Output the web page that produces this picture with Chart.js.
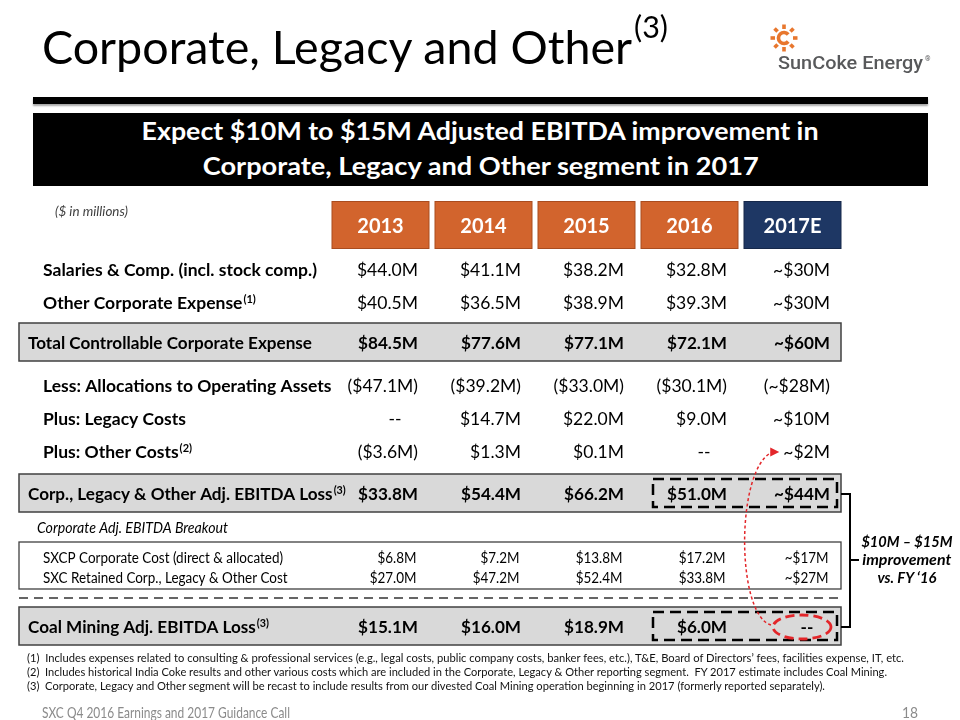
<!DOCTYPE html>
<html>
<head>
<meta charset="utf-8">
<title>Corporate, Legacy and Other</title>
<script src="https://cdn.jsdelivr.net/npm/chart.js@4.4.1/dist/chart.umd.min.js"></script>
<style>
  body { margin: 0; background: #fff; }
  #slide { position: relative; width: 960px; height: 720px; overflow: hidden; font-family: Lato, "Open Sans", sans-serif; color: #000; }
  #tabela { position: absolute; left: 0; top: 0; }
  .txt { position: absolute; white-space: nowrap; line-height: 1; }
  .txt span { display: inline-block; transform-origin: left center; }
  .centro { text-align: center; }
  .centro span { transform-origin: center center; }
  .nota { font-size: 11.5px; color: #111; left: 27px; }
</style>
</head>
<body>
<div id="slide">
  <canvas id="tabela" width="960" height="720"></canvas>

  <div class="txt" style="left:42px; top:23px; font-size:47px;"><span data-w="590">Corporate, Legacy and Other</span></div>
  <div class="txt" style="left:634px; top:11px; font-size:30px;"><span data-w="34">(3)</span></div>

  <svg style="position:absolute; left:768px; top:23px;" width="32" height="30" viewBox="0 0 32 30">
    <path d="M20.2 18.5 A5.5 5.5 0 1 1 20.2 11.5" fill="none" stroke="#e8772e" stroke-width="3.6"/>
    <g stroke="#e8772e" stroke-width="3.6">
      <line x1="25" y1="15" x2="29.5" y2="15"/>
      <line x1="7" y1="15" x2="2.5" y2="15"/>
      <line x1="16" y1="6" x2="16" y2="1.5"/>
      <line x1="16" y1="24" x2="16" y2="28.5"/>
      <line x1="22.4" y1="8.6" x2="25.5" y2="5.5"/>
      <line x1="9.6" y1="8.6" x2="6.5" y2="5.5"/>
      <line x1="22.4" y1="21.4" x2="25.5" y2="24.5"/>
      <line x1="9.6" y1="21.4" x2="6.5" y2="24.5"/>
    </g>
  </svg>
  <div class="txt" style="left:778px; top:54px; font-size:18.5px; font-family:Roboto, sans-serif; font-weight:500; color:#58595b;"><span data-w="145">SunCoke Energy</span></div>
  <div class="txt" style="left:925px; top:56px; font-size:7px; font-family:Roboto, sans-serif; color:#58595b;">®</div>

  <div style="position:absolute; left:33px; top:97px; width:895px; height:7px; background:#000; box-shadow:0 2px 2px rgba(0,0,0,.35);"></div>
  <div style="position:absolute; left:33px; top:113px; width:895px; height:73px; background:#000;"></div>
  <div class="txt centro" style="left:33px; width:895px; top:118px; font-size:25px; font-weight:700; color:#fff;"><span data-w="677">Expect $10M to $15M Adjusted EBITDA improvement in</span></div>
  <div class="txt centro" style="left:33px; width:895px; top:153px; font-size:25px; font-weight:700; color:#fff;"><span data-w="556">Corporate, Legacy and Other segment in 2017</span></div>

  <div class="txt" style="left:55px; top:206px; font-size:12.5px; font-style:italic; color:#404040;"><span data-w="73">($ in millions)</span></div>

  <div class="txt centro" style="left:857px; width:100px; top:534px; font-size:15px; font-weight:700; font-style:italic;"><span data-w="91">$10M – $15M</span></div>
  <div class="txt centro" style="left:857px; width:100px; top:552px; font-size:15px; font-weight:700; font-style:italic;"><span data-w="89">improvement</span></div>
  <div class="txt centro" style="left:857px; width:100px; top:570px; font-size:15px; font-weight:700; font-style:italic;"><span data-w="59">vs. FY ‘16</span></div>

  <div class="txt nota" style="top:652px;"><span data-w="877">(1)&nbsp; Includes expenses related to consulting &amp; professional services (e.g., legal costs, public company costs, banker fees, etc.), T&amp;E, Board of Directors’ fees, facilities expense, IT, etc.</span></div>
  <div class="txt nota" style="top:666px;"><span data-w="860">(2)&nbsp; Includes historical India Coke results and other various costs which are included in the Corporate, Legacy &amp; Other reporting segment.&nbsp; FY 2017 estimate includes Coal Mining.</span></div>
  <div class="txt nota" style="top:680px;"><span data-w="798">(3)&nbsp; Corporate, Legacy and Other segment will be recast to include results from our divested Coal Mining operation beginning in 2017 (formerly reported separately).</span></div>

  <div class="txt" style="left:42px; top:705px; font-size:15px; color:#8b8b8b;"><span data-w="248">SXC Q4 2016 Earnings and 2017 Guidance Call</span></div>
  <div class="txt" style="left:902px; top:705px; font-size:15px; color:#8b8b8b;"><span data-w="16">18</span></div>
</div>

<script>
// dados da tabela (valores em milhoes, null = "--")
const anos = ['2013', '2014', '2015', '2016', '2017E'];
const linhas = [
    'Salaries & Comp. (incl. stock comp.)',
    'Other Corporate Expense',
    'Total Controllable Corporate Expense',
    'Less: Allocations to Operating Assets',
    'Plus: Legacy Costs',
    'Plus: Other Costs',
    'Corp., Legacy & Other Adj. EBITDA Loss',
    'SXCP Corporate Cost (direct & allocated)',
    'SXC Retained Corp., Legacy & Other Cost',
    'Coal Mining Adj. EBITDA Loss'
];
const notas = ['', '(1)', '', '', '', '(2)', '(3)', '', '', '(3)'];
const v2013 = [44.0, 40.5, 84.5, -47.1, null, -3.6, 33.8, 6.8, 27.0, 15.1];
const v2014 = [41.1, 36.5, 77.6, -39.2, 14.7, 1.3, 54.4, 7.2, 47.2, 16.0];
const v2015 = [38.2, 38.9, 77.1, -33.0, 22.0, 0.1, 66.2, 13.8, 52.4, 18.9];
const v2016 = [32.8, 39.3, 72.1, -30.1, 9.0, null, 51.0, 17.2, 33.8, 6.0];
const v2017E = [30, 30, 60, -28, 10, 2, 44, 17, 27, null];
const subtitulo = 'Corporate Adj. EBITDA Breakout';

// layout (estilo, nao dados)
const tipoLinha = ['row', 'row', 'box', 'row', 'row', 'row', 'box', 'break', 'break', 'box'];
const layout = {
    headerY: 225,
    passos: [45, 33, 40, 43, 33, 33, 42, 63, 20, 50],
    subtituloGap: 34,
    esquerda: 19,
    meiaLargura: 48.5
};
const cores = { laranja: '#d2642d', laranjaBorda: '#a94c1f', azul: '#1e3764', cinza: '#d9d9d9', borda: '#404040', vermelho: '#e3262a' };

const rowY = [];
layout.passos.reduce((acc, p) => { acc += p; rowY.push(acc); return acc; }, layout.headerY);

function fmt(v, est) {
    if (v === null) return '--';
    const n = est ? '~$' + Math.abs(v) + 'M' : '$' + Math.abs(v).toFixed(1) + 'M';
    return v < 0 ? '(' + n + ')' : n;
}

function escreve(ctx, s, x, y, align, sq) {
    ctx.save();
    ctx.translate(x, y);
    ctx.scale(sq, 1);
    ctx.textAlign = align;
    ctx.fillText(s, 0, 0);
    ctx.restore();
}

function fonte(tipo) {
    if (tipo === 'break') return { b: '15.5px Lato', v: '15.5px Lato', sz: 15.5 };
    if (tipo === 'box') return { b: 'bold 17.5px Lato', v: 'bold 17.5px Lato', sz: 17.5 };
    return { b: 'bold 17.5px Lato', v: '17.5px Lato', sz: 17.5 };
}

const plugTabela = {
    id: 'plugTabela',
    beforeDatasetsDraw(chart) {
        const ctx = chart.ctx, x = chart.scales.x, y = chart.scales.y;
        const L = layout.esquerda, R = x.getPixelForValue(anos.length - 1) + layout.meiaLargura;
        ctx.save();
        // caixas cinza
        tipoLinha.forEach((t, i) => {
            if (t !== 'box') return;
            const yc = y.getPixelForValue(rowY[i]);
            ctx.fillStyle = cores.cinza;
            ctx.fillRect(L, yc - 20, R - L, 38);
            ctx.strokeStyle = cores.borda;
            ctx.lineWidth = 1.5;
            ctx.strokeRect(L, yc - 20, R - L, 38);
        });
        // caixa do breakout
        const y1 = y.getPixelForValue(rowY[7]), y2 = y.getPixelForValue(rowY[8]);
        ctx.strokeStyle = cores.borda;
        ctx.lineWidth = 1.3;
        ctx.strokeRect(L, y1 - 15, R - L, y2 - y1 + 27);
        // linha tracejada
        ctx.setLineDash([9, 6]);
        ctx.strokeStyle = '#333';
        ctx.lineWidth = 1.5;
        ctx.beginPath();
        ctx.moveTo(L, y2 + 21);
        ctx.lineTo(R, y2 + 21);
        ctx.stroke();
        ctx.setLineDash([]);
        // cabecalho
        const yh = y.getPixelForValue(layout.headerY);
        anos.forEach((a, i) => {
            const cx = x.getPixelForValue(i);
            const ult = i === anos.length - 1;
            ctx.fillStyle = ult ? cores.azul : cores.laranja;
            ctx.fillRect(cx - layout.meiaLargura, yh - 23.5, layout.meiaLargura * 2, 47);
            ctx.strokeStyle = ult ? '#16284a' : cores.laranjaBorda;
            ctx.lineWidth = 1;
            ctx.strokeRect(cx - layout.meiaLargura, yh - 23.5, layout.meiaLargura * 2, 47);
        });
        ctx.restore();
    },
    afterDatasetsDraw(chart) {
        const ctx = chart.ctx, x = chart.scales.x, y = chart.scales.y;
        ctx.save();
        ctx.textBaseline = 'alphabetic';
        ctx.font = 'bold 17.5px Lato';
        const sqMain = 274 / ctx.measureText(linhas[0]).width;
        const sqBox = 284 / ctx.measureText(linhas[2]).width;
        ctx.font = '15.5px Lato';
        const sqBreak = 240 / ctx.measureText(linhas[7]).width;
        ctx.font = 'italic 14.5px Lato';
        const sqSub = 191 / ctx.measureText(subtitulo).width;
        const aperto = t => t === 'break' ? sqBreak : (t === 'box' ? sqBox : sqMain);

        // texto do cabecalho
        const yh = y.getPixelForValue(layout.headerY);
        ctx.fillStyle = '#fff';
        ctx.font = 'bold 20px Lato';
        anos.forEach((a, i) => escreve(ctx, a, x.getPixelForValue(i), yh + 0.36 * 20 + 1, 'center', sqMain));

        // rotulos das linhas
        ctx.fillStyle = '#000';
        linhas.forEach((lab, i) => {
            const t = tipoLinha[i], f = fonte(t);
            const sq = aperto(t);
            const lx = t === 'box' ? 28 : 43;
            const base = y.getPixelForValue(rowY[i]) + 0.36 * f.sz;
            ctx.font = f.b;
            escreve(ctx, lab, lx, base, 'left', sq);
            if (notas[i]) {
                const w = ctx.measureText(lab).width * sq;
                ctx.font = 'bold 11px Lato';
                escreve(ctx, notas[i], lx + w + 1, base - 6, 'left', sq);
            }
        });
        ctx.font = 'italic 14.5px Lato';
        escreve(ctx, subtitulo, 37, y.getPixelForValue(rowY[6] + layout.subtituloGap) + 5.2, 'left', sqSub);

        // valores, posicionados pelos pontos de cada dataset
        let setaX = 0, setaY = 0;
        chart.data.datasets.forEach((ds, d) => {
            const meta = chart.getDatasetMeta(d);
            meta.data.forEach((pt, j) => {
                const t = tipoLinha[j], f = fonte(t);
                const sq = aperto(t);
                const s = fmt(ds.valores[j], ds.estimado);
                ctx.font = f.v;
                const dx = t === 'break' ? 36 : 37.5;
                const base = pt.y + 0.36 * f.sz;
                if (s === '--') {
                    escreve(ctx, s, pt.x + dx - 23, base, 'center', sq);
                } else {
                    escreve(ctx, s, pt.x + dx, base, 'right', sq);
                }
                if (ds.estimado && j === 5) {
                    setaX = pt.x + dx - ctx.measureText(s).width * sq - 4;
                    setaY = pt.y;
                }
            });
        });

        // retangulos tracejados em 2016-2017E
        const xa = x.getPixelForValue(3) - 36.5, xb = x.getPixelForValue(4) + 44.5;
        ctx.strokeStyle = '#000';
        ctx.lineWidth = 2.5;
        ctx.setLineDash([11, 6]);
        [6, 9].forEach(i => {
            const yc = y.getPixelForValue(rowY[i]);
            ctx.strokeRect(xa, yc - 15, xb - xa, 28);
        });

        // elipse vermelha e seta
        const ex = x.getPixelForValue(4) + 9.5, ey = y.getPixelForValue(rowY[9]);
        ctx.strokeStyle = cores.vermelho;
        ctx.lineWidth = 2.8;
        ctx.setLineDash([9, 5]);
        ctx.beginPath();
        ctx.ellipse(ex, ey, 29, 12, 0, 0, Math.PI * 2);
        ctx.stroke();

        ctx.lineWidth = 1.5;
        ctx.setLineDash([3, 2.5]);
        const sx = ex - 31, sy = ey - 2;
        ctx.beginPath();
        ctx.moveTo(sx, sy);
        ctx.bezierCurveTo(sx - 35, sy - 10, setaX - 44, setaY + 17, setaX - 7, setaY);
        ctx.stroke();
        ctx.setLineDash([]);
        ctx.fillStyle = cores.vermelho;
        ctx.beginPath();
        ctx.moveTo(setaX, setaY);
        ctx.lineTo(setaX - 9, setaY - 4.5);
        ctx.lineTo(setaX - 9, setaY + 4.5);
        ctx.closePath();
        ctx.fill();

        // colchete
        const R = x.getPixelForValue(anos.length - 1) + layout.meiaLargura;
        const ya = y.getPixelForValue(rowY[6]), yb = y.getPixelForValue(rowY[9]);
        ctx.strokeStyle = '#000';
        ctx.lineWidth = 2;
        ctx.beginPath();
        ctx.moveTo(R, ya);
        ctx.lineTo(R + 9, ya);
        ctx.lineTo(R + 9, yb);
        ctx.lineTo(R, yb);
        ctx.moveTo(R + 9, 560);
        ctx.lineTo(R + 18, 560);
        ctx.stroke();
        ctx.restore();
    }
};

const colunas = [v2013, v2014, v2015, v2016, v2017E];
const config = {
    type: 'scatter',
    data: {
        labels: anos,
        datasets: colunas.map((vals, c) => ({
            label: anos[c],
            valores: vals,
            estimado: anos[c] === '2017E',
            data: vals.map((v, j) => ({ x: anos[c], y: rowY[j] })),
            pointRadius: 0,
            pointHoverRadius: 0,
            showLine: false
        }))
    },
    options: {
        responsive: false,
        animation: false,
        events: [],
        layout: { padding: { left: 329, right: 116, top: 0, bottom: 0 } },
        plugins: { legend: { display: false }, tooltip: { enabled: false } },
        scales: {
            x: { type: 'category', labels: anos, offset: true, display: false },
            y: { type: 'linear', min: 0, max: 720, reverse: true, display: false }
        }
    },
    plugins: [plugTabela]
};

function ajustar() {
    document.querySelectorAll('[data-w]').forEach(el => {
        el.style.transform = '';
        const w = el.getBoundingClientRect().width;
        el.style.transform = 'scaleX(' + (el.dataset.w / w) + ')';
    });
}

const grafico = new Chart(document.getElementById('tabela').getContext('2d'), config);
ajustar();
document.fonts.ready.then(() => { ajustar(); grafico.update(); });
</script>
</body>
</html>
